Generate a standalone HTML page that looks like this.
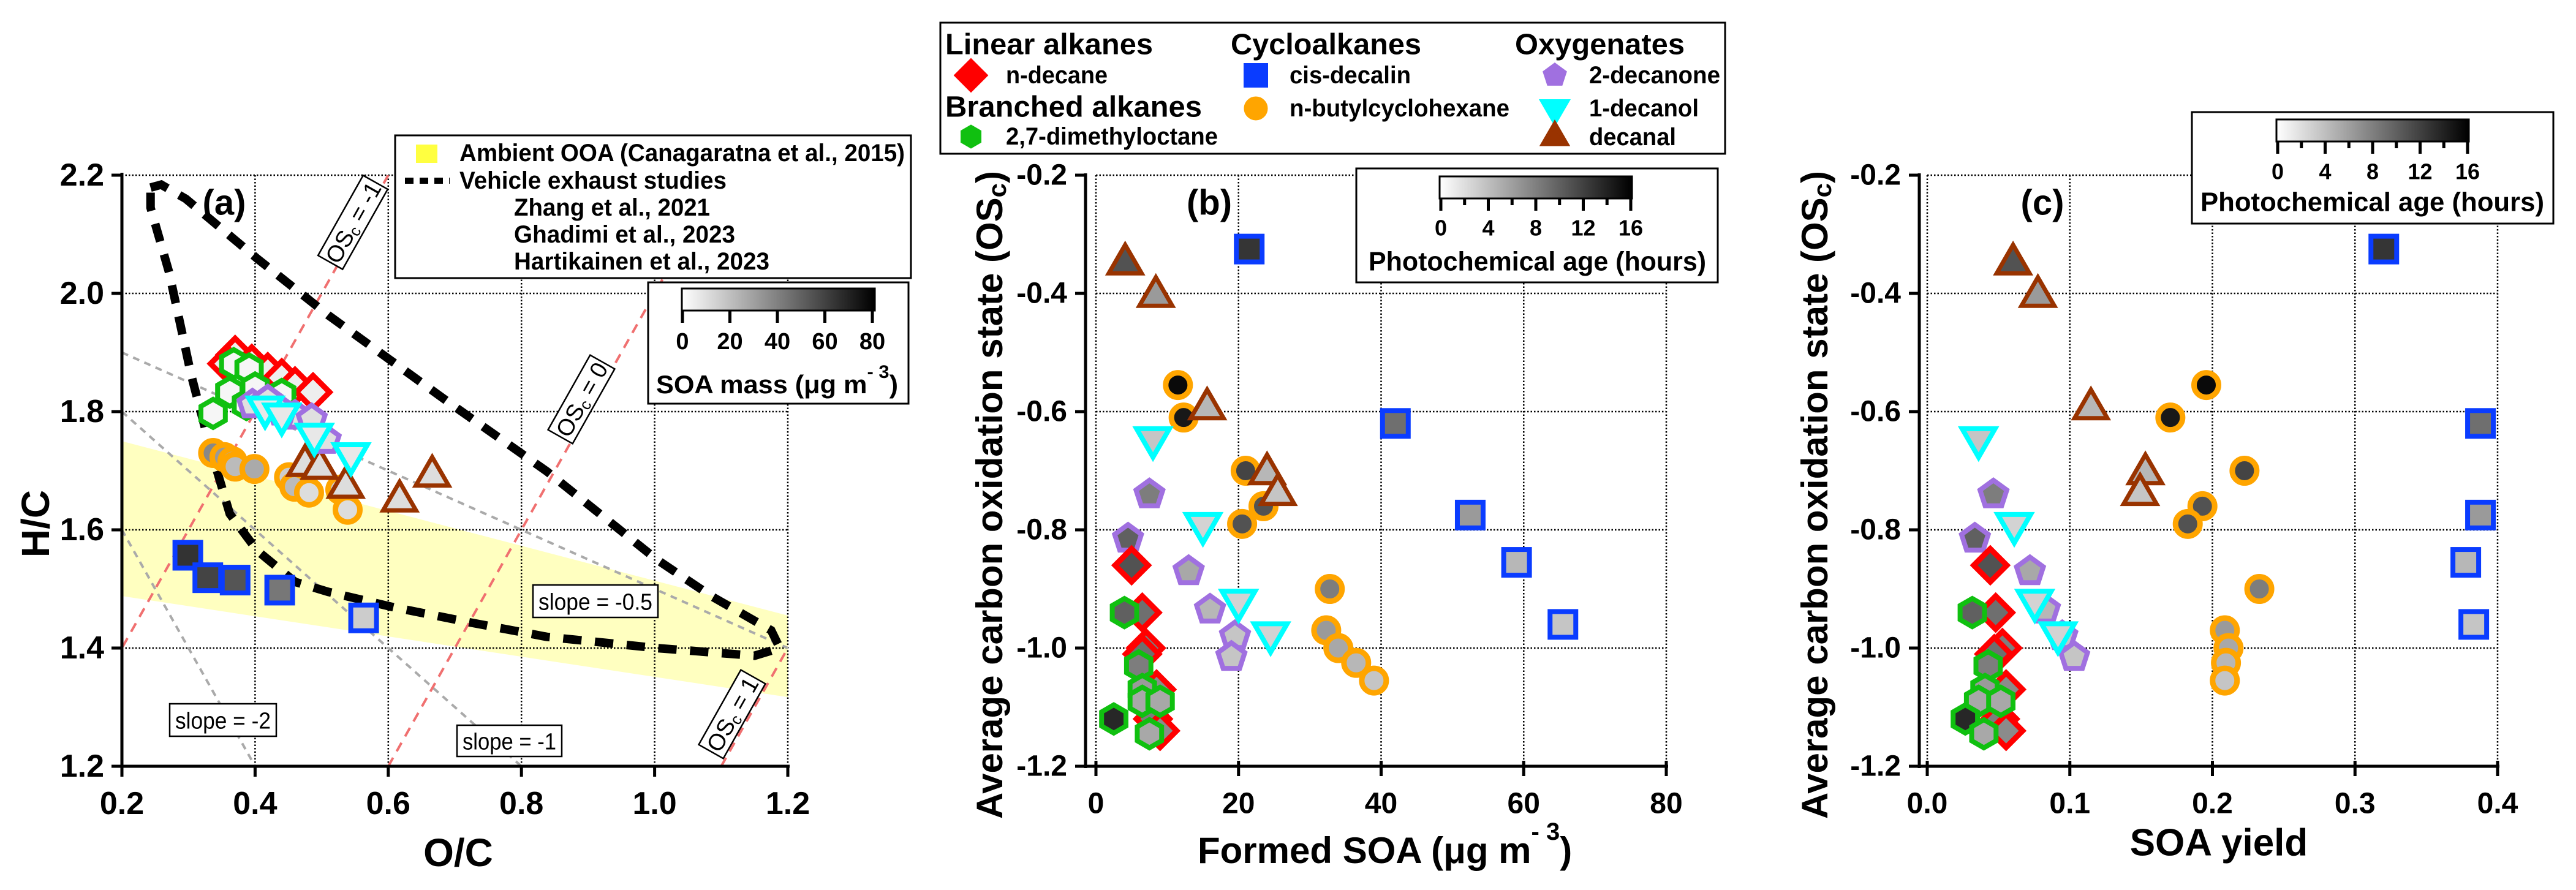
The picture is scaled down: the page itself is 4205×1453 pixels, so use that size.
<!DOCTYPE html>
<html><head><meta charset="utf-8"><style>
html,body{margin:0;padding:0;background:#fff;}
svg{display:block;font-family:"Liberation Sans",Arial,sans-serif;}
</style></head><body>
<svg id="fig" width="4205" height="1453" viewBox="0 0 4205 1453" xmlns="http://www.w3.org/2000/svg"></svg>
<script>
// ---------- Panel (a) data: O/C and H/C ----------
const aDecaneOC=[0.37,0.358,0.395,0.419,0.44,0.46,0.487];
const aDecaneHC=[1.896,1.881,1.881,1.867,1.857,1.843,1.833];
const aDmoOC=[0.368,0.391,0.362,0.337,0.387,0.44,0.4];
const aDmoHC=[1.881,1.872,1.833,1.797,1.812,1.829,1.84];
const aDecanoneOC=[0.396,0.419,0.46,0.485,0.506,0.44];
const aDecanoneHC=[1.812,1.819,1.793,1.787,1.752,1.8];
const aDecanolOC=[0.415,0.44,0.489,0.544];
const aDecanolHC=[1.807,1.795,1.761,1.728];
const aBchOC=[0.337,0.354,0.366,0.37,0.399,0.451,0.459,0.481,0.528,0.539];
const aBchHC=[1.73,1.723,1.716,1.707,1.703,1.689,1.673,1.663,1.668,1.634];
const aDecanalOC=[0.475,0.497,0.536,0.617,0.666];
const aDecanalHC=[1.709,1.704,1.672,1.649,1.691];
const aDecalinOC=[0.299,0.329,0.37,0.437,0.563];
const aDecalinHC=[1.557,1.519,1.515,1.498,1.451];
const aDecalinFill=['#333','#444','#555','#777','#ccc'];
const aBchFill=['#888','#999','#aaa','#bbb','#aaa','#ccc','#bbb','#ddd','#ccc','#ddd'];
const oocOC=[0.2,1.2,1.2,0.2];
const oocHC=[1.75,1.455,1.317,1.488];
const vehOC=[0.243,0.259,0.296,0.403,0.51,0.699,0.838,1.003,1.085,1.175,1.188,1.15,1.003,0.838,0.715,0.608,0.51,0.46,0.403,0.362,0.333,0.304,0.271,0.243];
const vehHC=[2.179,2.184,2.16,2.059,1.963,1.809,1.699,1.55,1.488,1.43,1.40,1.387,1.40,1.419,1.445,1.469,1.495,1.512,1.565,1.627,1.737,1.862,2.035,2.145];
const aXTicks=[0.2,0.4,0.6,0.8,1.0,1.2];
const aXTickLabels=['0.2','0.4','0.6','0.8','1.0','1.2'];
const aYTicks=[1.2,1.4,1.6,1.8,2.0,2.2];
const aYTickLabels=['1.2','1.4','1.6','1.8','2.0','2.2'];

// ---------- Panels (b)/(c) data: formed SOA, yield, OSc ----------
const bcDecaneOS=[-0.86,-0.94,-1.0,-1.01,-1.07,-1.12,-1.14];
const bDecaneSOA=[5,6.5,7,6.5,8.5,8,9];
const cDecaneY=[0.0442,0.048,0.0527,0.047,0.0553,0.051,0.0553];
const decaneAge=[11,9,8,9,7,8,7];
const bcDmoOS=[-0.94,-1.03,-1.07,-1.09,-1.09,-1.12,-1.145];
const bDmoSOA=[4,6,6.5,6.5,9,2.5,7.5];
const cDmoY=[0.0316,0.0427,0.0405,0.036,0.0516,0.0267,0.0397];
const dmoAge=[10,8,6,5,5,14,5];
const bcDecanoneOS=[-0.74,-0.815,-0.87,-0.935,-0.98,-1.015];
const bDecanoneSOA=[7.5,4.5,13,16,19.5,19];
const cDecanoneY=[0.0464,0.0334,0.072,0.0825,0.0947,0.103];
const decanoneAge=[8,10,5,4,3,3];
const bcDecanolOS=[-0.645,-0.79,-0.92,-0.975];
const bDecanolSOA=[8,15,20,24.5];
const cDecanolY=[0.036,0.061,0.0754,0.0917];
const decanolAge=[3,2,2,2];
const bcBchOS=[-0.555,-0.61,-0.70,-0.76,-0.79,-0.90,-0.97,-1.0,-1.025,-1.055];
const bBchSOA=[11.5,12.3,21,23.5,20.5,32.8,32.3,34,36.5,39];
const cBchY=[0.1957,0.1705,0.2225,0.193,0.1827,0.2329,0.2087,0.2113,0.2095,0.2087];
const bchAge=[16,15,12,11,11,8,6,5,4,3];
const bcDecanalOS=[-0.35,-0.405,-0.595,-0.705,-0.74];
const bDecanalSOA=[4.1,8.4,15.6,24,25.5];
const cDecanalY=[0.0602,0.0776,0.1148,0.153,0.1493];
const decanalAge=[11,6,4,4,3];
const bcDecalinOS=[-0.325,-0.62,-0.775,-0.855,-0.96];
const bDecalinSOA=[21.5,42,52.5,59,65.5];
const cDecalinY=[0.3202,0.388,0.388,0.3777,0.3833];
const decalinAge=[13,9,6,4,3];
const bcYTicks=[-1.2,-1.0,-0.8,-0.6,-0.4,-0.2];
const bcYTickLabels=['-1.2','-1.0','-0.8','-0.6','-0.4','-0.2'];
const bXTicks=[0,20,40,60,80];
const bXTickLabels=['0','20','40','60','80'];
const cXTicks=[0,0.1,0.2,0.3,0.4];
const cXTickLabels=['0.0','0.1','0.2','0.3','0.4'];
const ageTicks=[0,4,8,12,16];
const ageMinor=[2,6,10,14];
const massTicks=[0,20,40,60,80];

// ---------- helpers ----------
const NS='http://www.w3.org/2000/svg';
const svg=document.getElementById('fig');
function mk(tag,attrs,parent){const e=document.createElementNS(NS,tag);for(const k in attrs)e.setAttribute(k,attrs[k]);(parent||svg).appendChild(e);return e;}
function txt(x,y,s,size,opts,parent){opts=opts||{};const t=mk('text',{x:x,y:y,'font-size':size,'font-weight':opts.w||'bold','text-anchor':opts.a||'middle','dominant-baseline':'central',fill:'#000'},parent);if(opts.len){t.setAttribute('textLength',opts.len);t.setAttribute('lengthAdjust','spacingAndGlyphs');}if(opts.tr)t.setAttribute('transform',opts.tr);t.textContent=s;return t;}
const ax=v=>199+(v-0.2)*1087;
const ay=v=>1251-(v-1.2)*965;
const by=v=>286+(-0.2-v)*965;
const bx=v=>1789+v*931/80;
const cx=v=>3146+v*931/0.4;
function grey(age){const g=Math.round(240-age/16*230);return 'rgb('+g+','+g+','+g+')';}

function shapePts(kind,x,y,r){
  let n,rot;
  if(kind==='hex'){n=6;rot=Math.PI/2;}else if(kind==='pent'){n=5;rot=-Math.PI/2;}
  else if(kind==='tri'){n=3;rot=-Math.PI/2;}else if(kind==='tridown'){n=3;rot=Math.PI/2;}
  else if(kind==='dia'){n=4;rot=-Math.PI/2;}
  let p=[];for(let i=0;i<n;i++){const a=rot+i*2*Math.PI/n;p.push((x+r*Math.cos(a)).toFixed(1)+','+(y+r*Math.sin(a)).toFixed(1));}
  return p.join(' ');
}
const STY={
  dia:{c:'#ff0000',r:27,sw:9},
  hex:{c:'#10c010',r:23,sw:8},
  pent:{c:'#a070e0',r:23,sw:8},
  tridown:{c:'#00ffff',r:31,sw:8},
  tri:{c:'#993300',r:31,sw:7},
  sq:{c:'#0a3cff',r:21,sw:8},
  circ:{c:'#ffa500',r:20,sw:9}
};
function marker(kind,x,y,fill,g,name,solid){
  const s=STY[kind];let e;
  if(kind==='circ'){e=mk('circle',{cx:x,cy:y,r:s.r,fill:solid?s.c:fill,stroke:s.c,'stroke-width':s.sw},g);}
  else if(kind==='sq'){e=mk('rect',{x:x-s.r,y:y-s.r,width:2*s.r,height:2*s.r,fill:solid?s.c:fill,stroke:s.c,'stroke-width':s.sw},g);}
  else {e=mk('polygon',{points:shapePts(kind,x,y,s.r),fill:solid?s.c:fill,stroke:s.c,'stroke-width':s.sw,'stroke-linejoin':'miter'},g);}
  
  
  return e;
}
function grid(x1,y1,x2,y2,g){mk('line',{x1:x1,y1:y1,x2:x2,y2:y2,stroke:'#000','stroke-width':2.5,'stroke-dasharray':'2.5 3'},g);}

// ================= PANEL A =================
const pa=mk('g',{});


const clipA=mk('clipPath',{id:'clipA'});mk('rect',{x:199,y:286,width:1087,height:965},clipA);
const band=mk('polygon',{points:oocOC.map((v,i)=>ax(v)+','+ay(oocHC[i])).join(' '),fill:'#ffffc0'},pa);


aXTicks.slice(1).forEach(v=>grid(ax(v),286,ax(v),1251,pa));
aYTicks.slice(1).forEach(v=>grid(199,ay(v),1286,ay(v),pa));
const ga=mk('g',{'clip-path':'url(#clipA)'},pa);
[[0.2,1.9,1.2,1.4],[0.2,1.8,0.8,1.2],[0.2,1.6,0.4,1.2]].forEach((l,i)=>{const e=mk('line',{x1:ax(l[0]),y1:ay(l[1]),x2:ax(l[2]),y2:ay(l[3]),stroke:'#aaa','stroke-width':4,'stroke-dasharray':'11 9'},ga);

});
[-1,0,1].forEach(os=>{const x1=(1.2+os)/2,x2=(2.2+os)/2;const e=mk('line',{x1:ax(x1),y1:ay(1.2),x2:ax(x2),y2:ay(2.2),stroke:'#f07070','stroke-width':4,'stroke-dasharray':'16 12'},ga);

});
const veh=mk('polygon',{points:vehOC.map((v,i)=>ax(v)+','+ay(vehHC[i])).join(' '),fill:'none',stroke:'#000','stroke-width':14,'stroke-dasharray':'30 22'},ga);


function boxLabel(cxp,cyp,w,h,rot,parts,name){const g=mk('g',{transform:'translate('+cxp+','+cyp+') rotate('+rot+')'},pa);


mk('rect',{x:-w/2,y:-h/2,width:w,height:h,fill:'#fff',stroke:'#000','stroke-width':2.5},g);
const t=mk('text',{x:0,y:2,'font-size':38,'text-anchor':'middle','dominant-baseline':'central'},g);
parts.forEach(p=>{const s=mk('tspan',p.sub?{'font-size':26,dy:8}:(p.after?{dy:-8}:{}),t);s.textContent=p.t;});}
boxLabel(576,363,150,46,-60.6,[{t:'OS'},{t:'c',sub:1},{t:' = -1',after:1}],'osc-minus1-label');
boxLabel(949,652,140,46,-60.6,[{t:'OS'},{t:'c',sub:1},{t:' = 0',after:1}],'osc-0-label');
boxLabel(1195,1166,140,46,-60.6,[{t:'OS'},{t:'c',sub:1},{t:' = 1',after:1}],'osc-1-label');
function slopeBox(x1,y1,x2,y2,s,name){const g=mk('g',{},pa);


mk('rect',{x:x1,y:y1,width:x2-x1,height:y2-y1,fill:'#fff',stroke:'#000','stroke-width':2.5},g);
txt((x1+x2)/2,(y1+y2)/2+2,s,38,{w:'normal',len:x2-x1-18},g);}
slopeBox(870,955,1074,1008,'slope = -0.5','slope-half-label');
slopeBox(277,1149,451,1202,'slope = -2','slope-2-label');
slopeBox(746,1184,917,1235,'slope = -1','slope-1-label');
aDecalinOC.forEach((v,i)=>marker('sq',ax(v),ay(aDecalinHC[i]),aDecalinFill[i],pa,'decalin-point'));
aBchOC.forEach((v,i)=>marker('circ',ax(v),ay(aBchHC[i]),aBchFill[i],pa,'butylcyclohexane-point'));
aDecanalOC.forEach((v,i)=>marker('tri',ax(v),ay(aDecanalHC[i]),'#ddd',pa,'decanal-point'));
aDecaneOC.forEach((v,i)=>marker('dia',ax(v),ay(aDecaneHC[i]),'#eee',pa,'decane-point'));
aDmoOC.forEach((v,i)=>marker('hex',ax(v),ay(aDmoHC[i]),'#f6f6f6',pa,'dimethyloctane-point'));
aDecanoneOC.forEach((v,i)=>marker('pent',ax(v),ay(aDecanoneHC[i]),'#e0e0e0',pa,'decanone-point'));
aDecanolOC.forEach((v,i)=>marker('tridown',ax(v),ay(aDecanolHC[i]),'#e8e8e8',pa,'decanol-point'));
mk('line',{x1:199,y1:282,x2:199,y2:1254,stroke:'#000','stroke-width':5},pa);
mk('line',{x1:196,y1:1251,x2:1289,y2:1251,stroke:'#000','stroke-width':5},pa);
aXTicks.forEach((v,i)=>{mk('line',{x1:ax(v),y1:1251,x2:ax(v),y2:1268,stroke:'#000','stroke-width':5},pa);
const t=txt(ax(v),1312,aXTickLabels[i],52,{},pa);

});
aYTicks.forEach((v,i)=>{mk('line',{x1:182,y1:ay(v),x2:199,y2:ay(v),stroke:'#000','stroke-width':5},pa);
const t=txt(170,ay(v),aYTickLabels[i],52,{a:'end'},pa);

});
let t0=txt(748,1392,'O/C',64,{},pa);


t0=txt(58,855,'H/C',64,{tr:'rotate(-90 58 855)'},pa);


t0=txt(366,331,'(a)',58,{},pa);


const la=mk('g',{},pa);


mk('rect',{x:645,y:221,width:842,height:233,fill:'#fff',stroke:'#000','stroke-width':3},la);
mk('rect',{x:679,y:236,width:35,height:30,fill:'#ffff40'},la);
mk('line',{x1:661,y1:295,x2:734,y2:295,stroke:'#000','stroke-width':10,'stroke-dasharray':'14 10'},la);
txt(750,250,'Ambient OOA (Canagaratna et al., 2015)',40,{a:'start',len:727},la);
txt(750,295,'Vehicle exhaust studies',40,{a:'start',len:436},la);
txt(839,339,'Zhang et al., 2021',40,{a:'start',len:320},la);
txt(839,383,'Ghadimi et al., 2023',40,{a:'start',len:361},la);
txt(839,427,'Hartikainen et al., 2023',40,{a:'start',len:417},la);
const cba=mk('g',{},pa);


const defs=mk('defs',{});
const lg=mk('linearGradient',{id:'gr',x1:0,y1:0,x2:1,y2:0},defs);
mk('stop',{offset:'0','stop-color':'#fff'},lg);mk('stop',{offset:'1','stop-color':'#000'},lg);
mk('rect',{x:1058,y:461,width:425,height:198,fill:'#fff',stroke:'#000','stroke-width':3},cba);
mk('rect',{x:1113,y:471,width:315,height:36,fill:'url(#gr)',stroke:'#000','stroke-width':3},cba);
const mx=v=>1114+v/80*310;
massTicks.forEach(v=>{mk('line',{x1:mx(v),y1:507,x2:mx(v),y2:527,stroke:'#000','stroke-width':5},cba);txt(mx(v),558,String(v),38,{},cba);});
const mt=mk('text',{x:1071,y:627,'font-size':42,'font-weight':'bold','dominant-baseline':'central','textLength':395,'lengthAdjust':'spacingAndGlyphs'},cba);
let sp=mk('tspan',{},mt);sp.textContent='SOA mass (μg m';
sp=mk('tspan',{'font-size':30,dy:-20},mt);sp.textContent='- 3';
sp=mk('tspan',{dy:20},mt);sp.textContent=')';

// ================= PANELS B & C =================
function ageBar(g,x0,y0,w,h,bx0,by0,bw,tickY,labY,titleY,titleX1,titleX2,name){
  const gg=mk('g',{},g);
  
  
  mk('rect',{x:x0,y:y0,width:w,height:h,fill:'#fff',stroke:'#000','stroke-width':3},gg);
  mk('rect',{x:bx0,y:by0,width:bw,height:36,fill:'url(#gr)',stroke:'#000','stroke-width':3},gg);
  const sx=v=>bx0+2+v/16*(bw-4);
  ageTicks.forEach(v=>{mk('line',{x1:sx(v),y1:by0+36,x2:sx(v),y2:by0+56,stroke:'#000','stroke-width':5},gg);txt(sx(v),labY,String(v),36,{},gg);});
  ageMinor.forEach(v=>mk('line',{x1:sx(v),y1:by0+36,x2:sx(v),y2:by0+47,stroke:'#000','stroke-width':5},gg));
  txt((titleX1+titleX2)/2,titleY,'Photochemical age (hours)',44,{len:titleX2-titleX1},gg);
}
function scatterPanel(name,xf,axisX,xTicks,xLabels,xTitle,label,labelX,ytitleX,xs){
  const g=mk('g',{});
  
  
  const x0=xf(xTicks[0]),x1=xf(xTicks[xTicks.length-1]);
  xTicks.forEach(v=>grid(xf(v),286,xf(v),1251,g));
  bcYTicks.slice(1).forEach(v=>grid(x0,by(v),x1,by(v),g));
  const series=[
   ['sq',xs.decalin,bcDecalinOS,decalinAge,'decalin-point'],
   ['circ',xs.bch,bcBchOS,bchAge,'butylcyclohexane-point'],
   ['tri',xs.decanal,bcDecanalOS,decanalAge,'decanal-point'],
   ['pent',xs.decanone,bcDecanoneOS,decanoneAge,'decanone-point'],
   ['tridown',xs.decanol,bcDecanolOS,decanolAge,'decanol-point'],
   ['dia',xs.decane,bcDecaneOS,decaneAge,'decane-point'],
   ['hex',xs.dmo,bcDmoOS,dmoAge,'dimethyloctane-point']];
  series.forEach(s=>s[1].forEach((v,i)=>marker(s[0],xf(v),by(s[2][i]),grey(s[3][i]),g,s[4])));
  mk('line',{x1:axisX,y1:283,x2:axisX,y2:1254,stroke:'#000','stroke-width':5},g);
  mk('line',{x1:axisX-17,y1:1251,x2:x1+3,y2:1251,stroke:'#000','stroke-width':5},g);
  xTicks.forEach((v,i)=>{mk('line',{x1:xf(v),y1:1242,x2:xf(v),y2:1267,stroke:'#000','stroke-width':5},g);
  const t=txt(xf(v),1312,xLabels[i],48,{},g);
  
  });
  bcYTicks.forEach((v,i)=>{mk('line',{x1:axisX-17,y1:by(v),x2:axisX,y2:by(v),stroke:'#000','stroke-width':5},g);
  const t=txt(axisX-30,by(v),bcYTickLabels[i],48,{a:'end'},g);
  
  });
  const tt=mk('text',{x:ytitleX,y:808,'font-size':60,'font-weight':'bold','text-anchor':'middle','dominant-baseline':'central',transform:'rotate(-90 '+ytitleX+' 808)'},g);
  
  
  let q=mk('tspan',{},tt);q.textContent='Average carbon oxidation state (OS';
  q=mk('tspan',{'font-size':42,dy:12},tt);q.textContent='c';
  q=mk('tspan',{dy:-12},tt);q.textContent=')';
  const lt=txt(labelX,331,label,58,{},g);
  
  
  return g;
}
const pb=scatterPanel('panel-b',bx,1772,bXTicks,bXTickLabels,'','(b)',1974,1615,
 {decalin:bDecalinSOA,bch:bBchSOA,decanal:bDecanalSOA,decanone:bDecanoneSOA,decanol:bDecanolSOA,decane:bDecaneSOA,dmo:bDmoSOA});
const xtb=mk('text',{x:1955,y:1388,'font-size':60,'font-weight':'bold','dominant-baseline':'central'},pb);


sp=mk('tspan',{},xtb);sp.textContent='Formed SOA (μg m';
sp=mk('tspan',{'font-size':40,dy:-30},xtb);sp.textContent='- 3';
sp=mk('tspan',{dy:30},xtb);sp.textContent=')';
ageBar(pb,2214,275,590,186,2350,288,314,343,372,427,2234,2785,'photochemical-age-colorbar-b');

const pc=scatterPanel('panel-c',cx,3133,cXTicks,cXTickLabels,'','(c)',3334,2962,
 {decalin:cDecalinY,bch:cBchY,decanal:cDecanalY,decanone:cDecanoneY,decanol:cDecanolY,decane:cDecaneY,dmo:cDmoY});
t0=txt(3622,1376,'SOA yield',62,{},pc);


ageBar(pc,3578,183,590,182,3716,195,314,250,280,330,3592,4153,'photochemical-age-colorbar-c');

const lb=mk('g',{});


mk('rect',{x:1535,y:37,width:1281,height:214,fill:'#fff',stroke:'#000','stroke-width':3},lb);
txt(1543,73,'Linear alkanes',48,{a:'start',len:339},lb);
txt(1543,175,'Branched alkanes',48,{a:'start',len:419},lb);
txt(2009,73,'Cycloalkanes',48,{a:'start',len:311},lb);
txt(2473,73,'Oxygenates',48,{a:'start',len:277},lb);
const items=[['dia',1585,123,'n-decane',1642,166],['hex',1585,223,'2,7-dimethyloctane',1642,346],
 ['sq',2050,123,'cis-decalin',2105,198],['circ',2050,177,'n-butylcyclohexane',2105,359],
 ['pent',2538,123,'2-decanone',2594,214],['tridown',2538,177,'1-decanol',2594,179],['tri',2538,224,'decanal',2594,142]];
items.forEach(it=>{const s=STY[it[0]];const old=s.r;s.r=it[0]==='sq'?16:(it[0]==='circ'?15:(it[0]==='dia'?22:(it[0]==='hex'?15:(it[0]==='pent'?16:22))));
 marker(it[0],it[1],it[2],'',lb,'legend-marker',true);s.r=old;
 const t=txt(it[4],it[2],it[3],40,{a:'start',len:it[5]},lb);
 
 });
</script>
</body></html>
